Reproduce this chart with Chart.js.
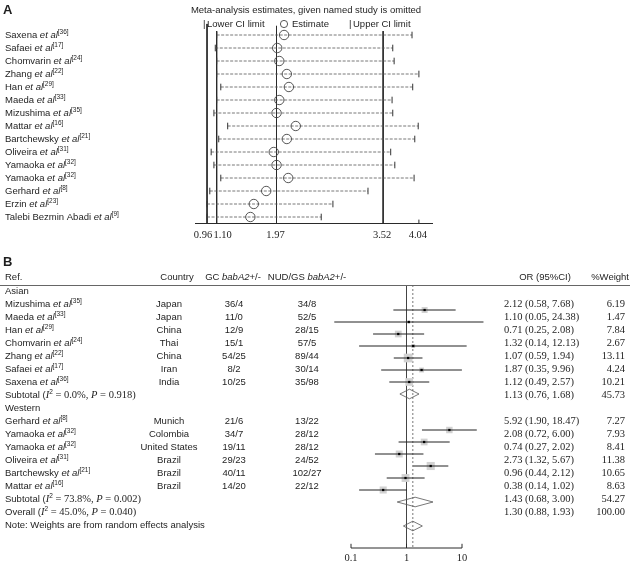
<!DOCTYPE html>
<html>
<head>
<meta charset="utf-8">
<script src="https://cdn.jsdelivr.net/npm/chart.js@4.4.1/dist/chart.umd.min.js"></script>
<style>
  html, body { margin: 0; padding: 0; background: #fff; }
  #wrap { position: relative; width: 630px; height: 565px; }
  canvas { position: absolute; left: 0; }
  #chartA { top: 0; }
  #chartB { top: 250px; }
</style>
</head>
<body>
<div id="wrap">
  <canvas id="chartA" width="630" height="250"></canvas>
  <canvas id="chartB" width="630" height="315"></canvas>
</div>
<script>
// ---------- panel A: estimates with one study omitted ----------
const omitNames = ['Saxena', 'Safaei', 'Chomvarin', 'Zhang', 'Han', 'Maeda', 'Mizushima', 'Mattar',
  'Bartchewsky', 'Oliveira', 'Yamaoka', 'Yamaoka', 'Gerhard', 'Erzin', 'Talebi Bezmin Abadi'];
const omitRefs  = [36, 17, 24, 22, 29, 33, 35, 16, 21, 31, 32, 32, 8, 23, 9];
const omitEst   = [2.08, 1.98, 2.01, 2.12, 2.15, 2.01, 1.97, 2.25, 2.12, 1.93, 1.97, 2.14, 1.82, 1.64, 1.59];
const omitLower = [1.10, 1.08, 1.10, 1.10, 1.16, 1.10, 1.06, 1.26, 1.13, 1.02, 1.06, 1.16, 1.00, 0.96, 0.96];
const omitUpper = [3.94, 3.66, 3.68, 4.04, 3.95, 3.65, 3.66, 4.03, 3.98, 3.63, 3.69, 3.97, 3.30, 2.79, 2.62];
const axisTicksA = [0.96, 1.10, 1.97, 3.52, 4.04];

// ---------- panel B: forest plot ----------
const regions    = ['Asian', 'Western'];
const studyNames = ['Mizushima', 'Maeda', 'Han', 'Chomvarin', 'Zhang', 'Safaei', 'Saxena',
  'Gerhard', 'Yamaoka', 'Yamaoka', 'Oliveira', 'Bartchewsky', 'Mattar'];
const studyRefs  = [35, 33, 29, 24, 22, 17, 36, 8, 32, 32, 31, 21, 16];
const studyRegion = ['Asian', 'Asian', 'Asian', 'Asian', 'Asian', 'Asian', 'Asian',
  'Western', 'Western', 'Western', 'Western', 'Western', 'Western'];
const countries  = ['Japan', 'Japan', 'China', 'Thai', 'China', 'Iran', 'India',
  'Munich', 'Colombia', 'United States', 'Brazil', 'Brazil', 'Brazil'];
const gcCounts   = ['36/4', '11/0', '12/9', '15/1', '54/25', '8/2', '10/25', '21/6', '34/7', '19/11', '29/23', '40/11', '14/20'];
const nudCounts  = ['34/8', '52/5', '28/15', '57/5', '89/44', '30/14', '35/98', '13/22', '28/12', '28/12', '24/52', '102/27', '22/12'];
const orVals     = [2.12, 1.10, 0.71, 1.32, 1.07, 1.87, 1.12, 5.92, 2.08, 0.74, 2.73, 0.96, 0.38];
const orLower    = [0.58, 0.05, 0.25, 0.14, 0.59, 0.35, 0.49, 1.90, 0.72, 0.27, 1.32, 0.44, 0.14];
const orUpper    = [7.68, 24.38, 2.08, 12.13, 1.94, 9.96, 2.57, 18.47, 6.00, 2.02, 5.67, 2.12, 1.02];
const weights    = [6.19, 1.47, 7.84, 2.67, 13.11, 4.24, 10.21, 7.27, 7.93, 8.41, 11.38, 10.65, 8.63];
const subOR      = [1.13, 1.43];
const subLower   = [0.76, 0.68];
const subUpper   = [1.68, 3.00];
const subWeight  = [45.73, 54.27];
const subI2      = [0.0, 73.8];
const subP       = [0.918, 0.002];
const overallOR = 1.30, overallLower = 0.88, overallUpper = 1.93;
const overallI2 = 45.0, overallP = 0.040;
const axisTicksB = [0.1, 1, 10];

// fonts
const SANS = '9.5px "Liberation Sans"';
const ITAL = 'italic 9.5px "Liberation Sans"';
const SUP  = '6.5px "Liberation Sans"';
const NUM  = '10.5px "Liberation Serif"';
const NUMI = 'italic 10.5px "Liberation Serif"';
const BOLD = 'bold 13px "Liberation Sans"';
const INK = '#1e1e1e';

// draw a run of differently styled pieces: [text, font, dy]
function rich(ctx, parts, x, y, align) {
  let w = 0;
  parts.forEach(p => { ctx.font = p[1]; w += ctx.measureText(p[0]).width; });
  let cx = align === 'center' ? x - w / 2 : align === 'right' ? x - w : x;
  ctx.textAlign = 'left';
  parts.forEach(p => {
    ctx.font = p[1];
    ctx.fillText(p[0], cx, y + (p[2] || 0));
    cx += ctx.measureText(p[0]).width;
  });
}
function refLabel(name, ref) {
  return [[name + ' ', SANS], ['et al', ITAL], ['[' + ref + ']', SUP, -3]];
}
function seg(points, color, width, dash, order) {
  return { data: points, showLine: true, borderColor: color, borderWidth: width,
    borderDash: dash || [], pointRadius: 0, clip: false, order: order || 5 };
}

// ================= chart A =================
const A_MIN = 0.785, A_MAX = 4.245, A_AXIS = 15.5;
const rowsA = omitNames.map((_, i) => i + 1);
const refTop = [0.15, 0.7, 0.3, 0.7];

const dsA = [];
axisTicksA.slice(0, 4).forEach((v, j) =>
  dsA.push(seg([{ x: v, y: refTop[j] }, { x: v, y: A_AXIS }], '#2a2a2a', 1)));
dsA.push(seg([{ x: A_MIN, y: A_AXIS }, { x: A_MAX, y: A_AXIS }], '#2a2a2a', 1));
dsA.push(seg([{ x: axisTicksA[4], y: A_AXIS }, { x: axisTicksA[4], y: A_AXIS - 0.3 }], '#2a2a2a', 1));
rowsA.forEach((r, i) =>
  dsA.push(seg([{ x: omitLower[i], y: r }, { x: omitUpper[i], y: r }], '#555', 0.8, [3, 1.5], 4)));
dsA.push({
  data: rowsA.flatMap((r, i) => [{ x: omitLower[i], y: r }, { x: omitUpper[i], y: r }]),
  pointStyle: 'line', pointRotation: 90, pointRadius: 3.3, borderColor: '#333',
  borderWidth: 1, clip: false, order: 2
});
dsA.push({
  data: rowsA.map((r, i) => ({ x: omitEst[i], y: r })),
  pointStyle: 'circle', pointRadius: 4.7, borderColor: '#444', borderWidth: 0.9,
  backgroundColor: 'rgba(0,0,0,0)', clip: false, order: 1
});

const textA = {
  id: 'textA',
  afterDraw(chart) {
    const { ctx } = chart;
    const x = chart.scales.x, y = chart.scales.y;
    ctx.save();
    ctx.fillStyle = INK;
    ctx.textBaseline = 'middle';
    ctx.font = BOLD;
    ctx.fillText('A', 3, 10);
    rich(ctx, [['Meta-analysis estimates, given named study is omitted', SANS]], 306, 10, 'center');
    rich(ctx, [['|', SANS]], 203, 24, 'left');
    rich(ctx, [['Lower CI limit', SANS]], 207, 24, 'left');
    ctx.strokeStyle = '#444'; ctx.lineWidth = 0.9;
    ctx.beginPath(); ctx.arc(284, 24, 3.6, 0, Math.PI * 2); ctx.stroke();
    rich(ctx, [['Estimate', SANS]], 292, 24, 'left');
    rich(ctx, [['|', SANS]], 349, 24, 'left');
    rich(ctx, [['Upper CI limit', SANS]], 353, 24, 'left');
    rowsA.forEach((r, i) => rich(ctx, refLabel(omitNames[i], omitRefs[i]), 5, y.getPixelForValue(r), 'left'));
    const ty = y.getPixelForValue(A_AXIS) + 12;
    axisTicksA.forEach((v, j) => {
      const px = x.getPixelForValue(v);
      const shift = j === 0 ? -4 : j === 1 ? 6 : -1;
      rich(ctx, [[v.toFixed(2), NUM]], px + shift, ty, 'center');
    });
    ctx.restore();
  }
};

new Chart(document.getElementById('chartA'), {
  type: 'scatter',
  data: { datasets: dsA },
  options: {
    responsive: false, animation: false, events: [],
    layout: { padding: { left: 195, right: 197, top: 22, bottom: 26.5 } },
    scales: {
      x: { type: 'linear', min: A_MIN, max: A_MAX, display: false },
      y: { type: 'linear', min: 0, max: A_AXIS, reverse: true, display: false }
    },
    plugins: { legend: { display: false }, tooltip: { enabled: false } }
  },
  plugins: [textA]
});

// ================= chart B =================
// text rows (table) and plot rows (markers) are laid out separately
const textRow = [], markRow = [], groupTextRow = [], subTextRow = [], subMarkRow = [];
let tr = 0, mr = 0;
regions.forEach((reg, r) => {
  groupTextRow[r] = tr++;
  studyRegion.forEach((g, i) => { if (g === reg) { textRow[i] = tr++; markRow[i] = mr++; } });
  subTextRow[r] = tr++;
  subMarkRow[r] = mr++;
  mr += 2;
});
const overallTextRow = tr++, noteTextRow = tr++;
const overallMarkRow = subMarkRow[subMarkRow.length - 1] + 2;

const M_TOP = -2.5, M_BOT = 19.833, RULE_M = -2.083;
const T_TOP = -0.846, T_BOT = 19.769, RULE_T = -0.46, HEAD_T = -1.05;

function diamond(est, lo, hi, m) {
  return seg([{ x: lo, y: m }, { x: est, y: m - 0.4 }, { x: hi, y: m },
    { x: est, y: m + 0.4 }, { x: lo, y: m }], '#555', 0.8, [], 2);
}

const dsB = [];
dsB.push(seg([{ x: 1, y: RULE_M }, { x: 1, y: M_BOT }], '#444', 1, [], 6));
dsB.push(seg([{ x: overallOR, y: RULE_M }, { x: overallOR, y: M_BOT }], '#777', 1, [2, 2], 6));
dsB.push(seg([{ x: axisTicksB[0], y: M_BOT }, { x: axisTicksB[axisTicksB.length - 1], y: M_BOT }], '#2a2a2a', 1));
axisTicksB.forEach(v => dsB.push(seg([{ x: v, y: M_BOT }, { x: v, y: M_BOT - 0.35 }], '#2a2a2a', 1)));
studyNames.forEach((_, i) =>
  dsB.push(seg([{ x: orLower[i], y: markRow[i] }, { x: orUpper[i], y: markRow[i] }], '#222', 1, [], 2)));
subOR.forEach((v, r) => dsB.push(diamond(v, subLower[r], subUpper[r], subMarkRow[r])));
dsB.push(diamond(overallOR, overallLower, overallUpper, overallMarkRow));
dsB.push({
  data: studyNames.map((_, i) => ({ x: orVals[i], y: markRow[i] })),
  pointStyle: 'rect', pointRadius: weights.map(w => 1.7 * Math.sqrt(w)),
  backgroundColor: '#d2d2d2', borderWidth: 0, clip: false, order: 3
});
dsB.push({
  data: studyNames.map((_, i) => ({ x: orVals[i], y: markRow[i] })),
  pointStyle: 'rect', pointRadius: 1.6, backgroundColor: '#000', borderWidth: 0,
  clip: false, order: 1
});

const textB = {
  id: 'textB',
  afterDraw(chart) {
    const { ctx } = chart;
    const x = chart.scales.x, yt = chart.scales.yt, ym = chart.scales.y;
    const COL_COUNTRY = 169, COL_GC = 234, COL_NUD = 307, COL_OR = 504, COL_W = 625;
    ctx.save();
    ctx.fillStyle = INK;
    ctx.textBaseline = 'middle';
    ctx.font = BOLD;
    ctx.fillText('B', 3, 12);

    const hy = yt.getPixelForValue(HEAD_T);
    rich(ctx, [['Ref.', SANS]], 5, hy, 'left');
    rich(ctx, [['Country', SANS]], 177, hy, 'center');
    rich(ctx, [['GC ', SANS], ['babA2', ITAL], ['+/-', SANS]], 233, hy, 'center');
    rich(ctx, [['NUD/GS ', SANS], ['babA2', ITAL], ['+/-', SANS]], COL_NUD, hy, 'center');
    rich(ctx, [['OR (95%CI)', SANS]], 545, hy, 'center');
    rich(ctx, [['%Weight', SANS]], 629, hy, 'right');
    const ry = Math.round(yt.getPixelForValue(RULE_T)) + 0.5;
    ctx.strokeStyle = '#666'; ctx.lineWidth = 1;
    ctx.beginPath(); ctx.moveTo(0, ry); ctx.lineTo(630, ry); ctx.stroke();

    const fmt = (e, l, h) => e.toFixed(2) + ' (' + l.toFixed(2) + ', ' + h.toFixed(2) + ')';
    regions.forEach((reg, r) => {
      rich(ctx, [[reg, SANS]], 5, yt.getPixelForValue(groupTextRow[r]), 'left');
      const sy = yt.getPixelForValue(subTextRow[r]);
      rich(ctx, [['Subtotal (', SANS], ['I', NUMI], ['2', SUP, -3], [' = ' + subI2[r].toFixed(1) + '%, ', NUM],
        ['P', NUMI], [' = ' + subP[r].toFixed(3) + ')', NUM]], 5, sy, 'left');
      rich(ctx, [[fmt(subOR[r], subLower[r], subUpper[r]), NUM]], COL_OR, sy, 'left');
      rich(ctx, [[subWeight[r].toFixed(2), NUM]], COL_W, sy, 'right');
    });
    studyNames.forEach((n, i) => {
      const sy = yt.getPixelForValue(textRow[i]);
      rich(ctx, refLabel(n, studyRefs[i]), 5, sy, 'left');
      rich(ctx, [[countries[i], SANS]], COL_COUNTRY, sy, 'center');
      rich(ctx, [[gcCounts[i], SANS]], COL_GC, sy, 'center');
      rich(ctx, [[nudCounts[i], SANS]], COL_NUD, sy, 'center');
      rich(ctx, [[fmt(orVals[i], orLower[i], orUpper[i]), NUM]], COL_OR, sy, 'left');
      rich(ctx, [[weights[i].toFixed(2), NUM]], COL_W, sy, 'right');
    });
    const oy = yt.getPixelForValue(overallTextRow);
    rich(ctx, [['Overall (', SANS], ['I', NUMI], ['2', SUP, -3], [' = ' + overallI2.toFixed(1) + '%, ', NUM],
      ['P', NUMI], [' = ' + overallP.toFixed(3) + ')', NUM]], 5, oy, 'left');
    rich(ctx, [[fmt(overallOR, overallLower, overallUpper), NUM]], COL_OR, oy, 'left');
    rich(ctx, [['100.00', NUM]], COL_W, oy, 'right');
    rich(ctx, [['Note: Weights are from random effects analysis', SANS]], 5, yt.getPixelForValue(noteTextRow), 'left');

    const ty = ym.getPixelForValue(M_BOT) + 10;
    axisTicksB.forEach(v => rich(ctx, [[String(v), NUM]], x.getPixelForValue(v), ty, 'center'));
    ctx.restore();
  }
};

new Chart(document.getElementById('chartB'), {
  type: 'scatter',
  data: { datasets: dsB },
  options: {
    responsive: false, animation: false, events: [],
    layout: { padding: { left: 295.5, right: 112.5, top: 30, bottom: 17 } },
    scales: {
      x: { type: 'logarithmic', min: 0.01, max: 100, display: false },
      y: { type: 'linear', min: M_TOP, max: M_BOT, reverse: true, display: false },
      yt: { type: 'linear', axis: 'y', min: T_TOP, max: T_BOT, reverse: true, display: false }
    },
    plugins: { legend: { display: false }, tooltip: { enabled: false } }
  },
  plugins: [textB]
});
</script>
</body>
</html>
